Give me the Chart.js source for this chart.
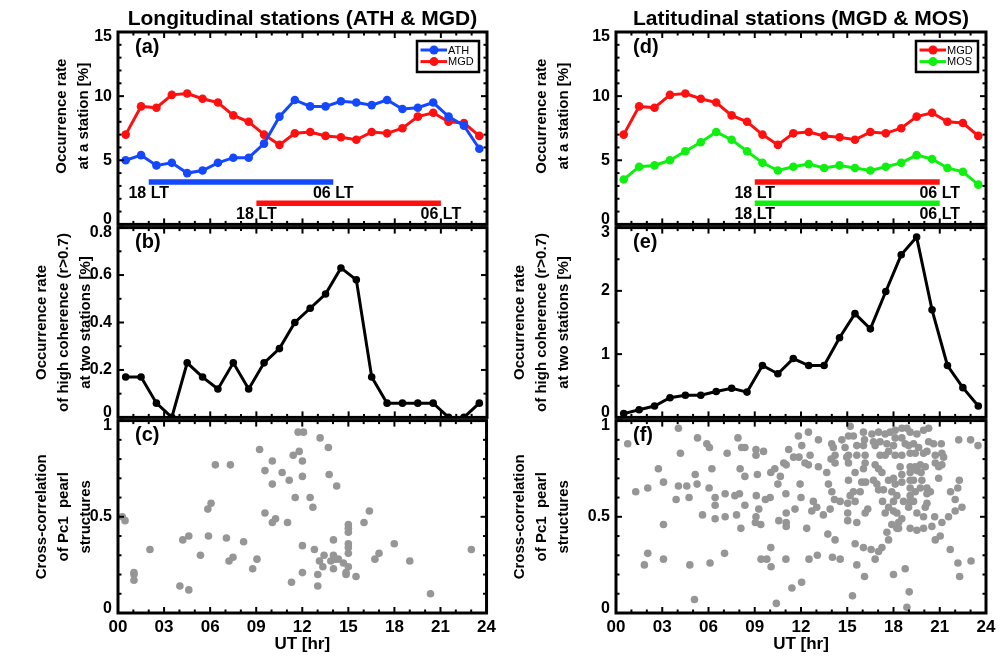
<!DOCTYPE html>
<html>
<head>
<meta charset="utf-8">
<script src="https://cdn.jsdelivr.net/npm/chart.js@4.4.1/dist/chart.umd.min.js"></script>
<style>
  body { margin: 0; background: #fff; width: 1005px; height: 658px; position: relative; overflow: hidden; }
  canvas { position: absolute; }
</style>
</head>
<body>
<canvas id="pa" width="500" height="240" style="left:0;top:0"></canvas>
<canvas id="pb" width="500" height="221" style="left:0;top:212px"></canvas>
<canvas id="pc" width="500" height="253" style="left:0;top:405px"></canvas>
<canvas id="pd" width="505" height="240" style="left:500px;top:0"></canvas>
<canvas id="pe" width="505" height="221" style="left:500px;top:212px"></canvas>
<canvas id="pf" width="505" height="253" style="left:500px;top:405px"></canvas>
<script>
// ---- data ----
const utHours = [0.5, 1.5, 2.5, 3.5, 4.5, 5.5, 6.5, 7.5, 8.5, 9.5, 10.5, 11.5,
                 12.5, 13.5, 14.5, 15.5, 16.5, 17.5, 18.5, 19.5, 20.5, 21.5, 22.5, 23.5];
const athRate = [5.0, 5.4, 4.6, 4.8, 4.0, 4.2, 4.8, 5.2, 5.2, 6.3, 8.4, 9.7,
                 9.2, 9.2, 9.6, 9.5, 9.3, 9.7, 9.0, 9.1, 9.5, 8.4, 7.7, 5.9];
const mgdRate = [7.0, 9.2, 9.1, 10.1, 10.2, 9.8, 9.5, 8.5, 8.0, 7.0, 6.2, 7.1,
                 7.2, 6.9, 6.8, 6.6, 7.2, 7.1, 7.5, 8.4, 8.7, 8.0, 7.9, 6.9];
const mosRate = [3.5, 4.5, 4.6, 5.0, 5.7, 6.4, 7.2, 6.6, 5.7, 4.8, 4.2, 4.5,
                 4.7, 4.4, 4.6, 4.4, 4.2, 4.5, 4.8, 5.4, 5.1, 4.4, 4.1, 3.1];
const lonCoherence = [0.17, 0.17, 0.06, 0, 0.23, 0.17, 0.12, 0.23, 0.12, 0.23, 0.29, 0.40,
                      0.46, 0.52, 0.63, 0.58, 0.17, 0.06, 0.06, 0.06, 0.06, 0, 0, 0.06];
const latCoherence = [0.06, 0.12, 0.18, 0.31, 0.35, 0.35, 0.41, 0.46, 0.40, 0.82, 0.69, 0.93,
                      0.82, 0.82, 1.26, 1.64, 1.40, 1.99, 2.57, 2.85, 1.70, 0.82, 0.47, 0.18];

// night-time (18 LT - 06 LT) windows in UT
const athNight = [2, 14];
const mgdNight = [9, 21];
const mosNight = [9, 21];
const nightLabels = ['18 LT', '06 LT'];

// cross-correlation of Pc1 pearl structures: [UT, r]
const lonPearlCorr = [
  [0.28,0.50],[0.46,0.48],[1.04,0.21],[1.04,0.20],[1.04,0.17],[2.08,0.33],[4.03,0.14],[4.22,0.38],
  [4.61,0.40],[4.61,0.12],[5.37,0.30],[5.85,0.54],[6.06,0.57],[5.89,0.40],[6.34,0.77],[7.06,0.39],
  [7.23,0.27],[7.49,0.29],[7.32,0.77],[8.18,0.37],[8.77,0.23],[9.05,0.28],[9.22,0.85],[9.57,0.74],
  [9.57,0.52],[10.05,0.79],[10.05,0.67],[10.05,0.47],[10.26,0.49],[10.69,0.73],[11.04,0.47],[11.15,0.69],
  [11.30,0.16],[11.41,0.82],[11.54,0.60],[11.80,0.84],[11.73,0.94],[12.08,0.94],[12.01,0.79],[12.01,0.71],
  [12.01,0.35],[12.01,0.21],[12.51,0.60],[12.69,0.55],[12.79,0.33],[13.16,0.91],[13.01,0.20],[13.01,0.14],
  [13.12,0.27],[13.34,0.24],[13.42,0.30],[13.70,0.86],[13.75,0.72],[13.86,0.27],[14.03,0.38],[14.03,0.30],
  [14.03,0.23],[14.14,0.28],[14.24,0.66],[14.35,0.28],[14.68,0.26],[14.85,0.21],[14.85,0.20],[15.00,0.46],
  [15.00,0.44],[15.00,0.42],[15.00,0.36],[15.00,0.34],[15.00,0.31],[15.00,0.24],[15.50,0.19],[16.02,0.47],
  [16.37,0.53],[16.73,0.28],[17.00,0.31],[17.99,0.36],[19.00,0.27],[20.35,0.10],[23.01,0.33]
];
const latPearlCorr = [
  [0.76,0.88],[1.28,0.63],[2.06,0.65],[1.84,0.25],[2.06,0.31],[2.75,0.75],[3.08,0.68],[3.08,0.46],
  [3.08,0.28],[4.05,0.96],[4.18,0.83],[4.05,0.66],[3.90,0.59],[4.59,0.66],[4.74,0.60],[4.79,0.25],
  [5.09,0.07],[5.29,0.91],[5.14,0.72],[5.26,0.67],[5.61,0.51],[5.89,0.88],[6.06,0.86],[6.22,0.75],
  [6.04,0.65],[6.43,0.60],[6.43,0.56],[6.43,0.49],[6.10,0.26],[7.04,0.31],[7.08,0.62],[7.08,0.50],
  [7.21,0.83],[7.91,0.91],[8.05,0.75],[8.15,0.86],[8.36,0.86],[7.71,0.61],[8.01,0.62],[8.36,0.71],
  [8.36,0.56],[7.82,0.51],[8.10,0.44],[9.08,0.85],[9.08,0.82],[9.57,0.84],[9.17,0.72],[9.10,0.61],
  [9.26,0.54],[9.08,0.50],[9.04,0.47],[9.39,0.46],[9.69,0.59],[10.00,0.60],[10.04,0.34],[9.41,0.28],
  [9.78,0.28],[10.06,0.24],[10.40,0.05],[10.04,0.73],[10.30,0.75],[10.50,0.67],[10.66,0.71],[10.56,0.48],
  [10.88,0.78],[11.04,0.77],[11.20,0.85],[11.02,0.62],[11.04,0.52],[11.04,0.47],[11.04,0.45],[11.02,0.28],
  [11.41,0.13],[11.52,0.81],
  [11.83,0.92],[12.05,0.87],[12.48,0.94],[13.13,0.90],[11.87,0.81],[11.94,0.67],[12.00,0.60],[11.61,0.54],
  [12.04,0.16],[12.52,0.28],[13.06,0.30],[12.26,0.78],[12.59,0.82],[12.48,0.77],[13.13,0.76],[13.67,0.73],
  [13.99,0.88],[14.10,0.86],[14.21,0.82],[13.95,0.80],[14.21,0.78],[14.65,0.90],[15.08,0.92],[15.19,0.97],
  [15.40,0.92],[14.86,0.86],[15.08,0.82],[14.97,0.81],[15.08,0.78],[15.62,0.87],[15.62,0.82],[16.05,0.94],
  [16.12,0.90],[16.05,0.87],[16.16,0.82],[16.05,0.75],[16.16,0.78],[15.94,0.68],[15.51,0.73],[13.78,0.67],
  [14.00,0.63],[14.17,0.59],[14.54,0.58],[12.80,0.58],[13.02,0.55],[12.70,0.53],[13.45,0.51],[13.89,0.54],
  [15.08,0.69],[15.19,0.61],[15.40,0.63],[15.51,0.58],[15.03,0.57],[15.03,0.52],[15.03,0.48],[15.62,0.47],
  [16.16,0.52],[16.33,0.54],[15.84,0.63],[16.19,0.68],[16.60,0.93],[17.03,0.94],[16.70,0.89],[16.81,0.87],
  [17.13,0.89],[17.46,0.93],[17.78,0.94],[18.11,0.95],[18.54,0.96],[18.87,0.96],[19.08,0.94],[19.52,0.93],
  [19.95,0.95],[20.28,0.96],[17.57,0.88],[18.00,0.87],[18.11,0.91],[18.54,0.91],[18.76,0.88],[18.98,0.87],
  [19.30,0.88],[19.08,0.83],[19.41,0.83],[19.63,0.86],[19.95,0.83],[20.60,0.88],[21.10,0.88],[21.14,0.83],
  [21.25,0.81],[20.71,0.82],[20.71,0.78],[21.14,0.77],[18.11,0.82],[18.54,0.82],[17.68,0.84],[17.46,0.82],
  [17.13,0.82],[16.81,0.77],[17.03,0.75],[17.25,0.73],[16.70,0.69],[16.92,0.67],[17.03,0.64],[17.35,0.64],
  [17.29,0.58],[17.68,0.55],[17.46,0.52],[18.00,0.53],[18.22,0.52],[17.68,0.69],[18.00,0.70],[18.11,0.67],
  [17.89,0.63],[18.00,0.58],[18.22,0.61],[18.54,0.68],[18.54,0.72],[18.43,0.76],[19.08,0.76],[19.08,0.73],
  [19.08,0.69],[19.08,0.65],[19.08,0.61],[19.08,0.58],[18.98,0.55],[19.30,0.58],[19.41,0.63],[19.30,0.69],
  [19.52,0.74],[19.41,0.76],[19.74,0.77],[20.06,0.76],[19.79,0.73],[19.84,0.69],[20.17,0.65],[20.39,0.63],
  [20.17,0.62],[19.74,0.65],[20.17,0.57],[20.06,0.55],[19.52,0.52],[18.65,0.58],[18.54,0.49],[18.33,0.47],
  [18.22,0.44],[17.89,0.46],[17.57,0.42],[17.68,0.38],[17.25,0.34],[17.03,0.32],[16.81,0.28],[16.55,0.33],
  [16.05,0.34],[15.51,0.36],[15.62,0.25],[16.12,0.19],[15.34,0.09],[14.21,0.38],[13.74,0.41],[14.04,0.29],
  [14.54,0.28],[12.37,0.44],[18.00,0.20],[18.76,0.23],[19.02,0.11],[18.87,0.03],[18.33,0.44],[19.08,0.44],
  [19.52,0.43],[19.95,0.44],[20.49,0.45],[19.95,0.50],[20.67,0.50],[21.14,0.47],[21.57,0.50],[22.00,0.53],
  [22.44,0.55],[22.00,0.59],[22.17,0.65],[21.70,0.63],[22.27,0.69],[20.71,0.38],[21.03,0.40],[21.68,0.33],
  [22.18,0.26],[22.29,0.19],[23.03,0.27],[22.23,0.90],[23.00,0.90],[23.48,0.87],[20.28,0.89],[20.93,0.76],
  [20.17,0.84],[20.93,0.70]
];

const xTickLabels = ['00', '03', '06', '09', '12', '15', '18', '21', '24'];

// ---- styling ----
const FONT = 'Arial, "Liberation Sans", sans-serif';
const BLUE = '#1448ff', RED = '#ff1010', GREEN = '#10f010', GREY = '#969696';

Chart.defaults.font.family = FONT;
Chart.defaults.color = '#000';
Chart.defaults.animation = false;

const pts = vals => utHours.map((h, i) => ({ x: h, y: vals[i] }));

function stationLine(label, vals, color) {
  return {
    label: label, data: pts(vals), inLegend: true,
    borderColor: color, backgroundColor: color, pointBackgroundColor: color,
    borderWidth: 3, pointRadius: 4.3, pointBorderWidth: 0, tension: 0
  };
}
function nightBar(range, level, color) {
  return {
    data: [{ x: range[0], y: level }, { x: range[1], y: level }], endLabels: nightLabels,
    borderColor: color, borderWidth: 5.5, pointRadius: 0, borderCapStyle: 'butt'
  };
}
function coherenceLine(vals) {
  return {
    data: pts(vals), borderColor: '#000', backgroundColor: '#000', clip: 0,
    borderWidth: 3, pointRadius: 3.8, pointBorderWidth: 0, tension: 0
  };
}
function corrScatter(pairs) {
  return {
    type: 'scatter', data: pairs, showLine: false,
    backgroundColor: GREY, pointRadius: 3.8, pointBorderWidth: 0
  };
}

// y tick labels: the end labels sit just inside the frame, as in the original
function yTickLabel(v, i, ticks) {
  const s = String(+v.toFixed(2));
  if (i === ticks.length - 1) return ['', s];
  if (i === 0) return [s, ''];
  return s;
}

// frame, inward ticks, panel tag, LT labels, y label, boxed legend
const panelDeco = {
  id: 'panelDeco',
  afterDatasetsDraw(chart, args, o) {
    const { ctx, chartArea: a, scales: { x, y } } = chart;
    ctx.save();

    // LT labels under the night bars
    ctx.font = 'bold 16px ' + FONT;
    ctx.fillStyle = '#000';
    ctx.textAlign = 'center';
    ctx.textBaseline = 'middle';
    chart.data.datasets.forEach((ds, i) => {
      if (!ds.endLabels) return;
      const el = chart.getDatasetMeta(i).data;
      ctx.fillText(ds.endLabels[0], el[0].x, el[0].y + 11.5);
      ctx.fillText(ds.endLabels[1], el[el.length - 1].x, el[el.length - 1].y + 11.5);
    });

    // ticks
    ctx.strokeStyle = '#000';
    ctx.lineWidth = 2;
    const seg = (x1, y1, x2, y2) => { ctx.beginPath(); ctx.moveTo(x1, y1); ctx.lineTo(x2, y2); ctx.stroke(); };
    const isMajor = (v, step) => Math.abs(v / step - Math.round(v / step)) < 1e-6;
    for (let v = x.min; v <= x.max + 1e-9; v += 1) {
      const px = x.getPixelForValue(v);
      const len = isMajor(v, 3) ? 6 : 3.5;
      seg(px, a.bottom, px, a.bottom - len);
      seg(px, a.top, px, a.top + len);
    }
    const n = Math.round((y.max - y.min) / o.yMinor);
    for (let k = 0; k <= n; k++) {
      const v = y.min + k * o.yMinor;
      const py = y.getPixelForValue(v);
      const len = isMajor(v, o.yMajor) ? 6 : 3.5;
      seg(a.left, py, a.left + len, py);
      seg(a.right, py, a.right - len, py);
    }
    ctx.lineWidth = 3;
    ctx.strokeRect(a.left, a.top, a.right - a.left, a.bottom - a.top);

    // panel tag
    ctx.font = 'bold 20px ' + FONT;
    ctx.textAlign = 'left';
    ctx.fillText(o.tag, a.left + 17, a.top + 15);

    // y axis label (multi-line, rotated)
    ctx.font = 'bold 15px ' + FONT;
    ctx.textAlign = 'center';
    o.yLabel.forEach((line, i) => {
      ctx.save();
      ctx.translate(a.left + o.yLabelDx + i * 22, (a.top + a.bottom) / 2 + o.yLabelDy);
      ctx.rotate(-Math.PI / 2);
      ctx.fillText(line, 0, 0);
      ctx.restore();
    });

    // boxed legend
    if (o.legend) {
      const items = chart.data.datasets.filter(d => d.inLegend);
      const w = 62, h = 31, bx = a.right - 8 - w, by = a.top + 9;
      ctx.fillStyle = '#fff';
      ctx.fillRect(bx, by, w, h);
      ctx.lineWidth = 2.5;
      ctx.strokeStyle = '#000';
      ctx.strokeRect(bx, by, w, h);
      ctx.font = '11px ' + FONT;
      ctx.textAlign = 'left';
      items.forEach((d, i) => {
        const cy = by + 9 + i * 11.6;
        ctx.strokeStyle = d.borderColor;
        ctx.lineWidth = 3;
        seg(bx + 3.5, cy, bx + 30, cy);
        ctx.fillStyle = d.borderColor;
        ctx.beginPath(); ctx.arc(bx + 17, cy, 4.5, 0, Math.PI * 2); ctx.fill();
        ctx.fillStyle = '#000';
        ctx.fillText(d.label, bx + 31, cy + 0.5);
      });
    }
    ctx.restore();
  }
};

function buildPanel(id, cfg) {
  const bottom = !!cfg.showX;
  return new Chart(document.getElementById(id), {
    type: 'line',
    data: { datasets: cfg.datasets },
    options: {
      responsive: false,
      devicePixelRatio: 1,
      layout: { padding: { left: 0, right: cfg.padRight, top: cfg.title ? 0 : 14, bottom: bottom ? 0 : 14 } },
      plugins: {
        legend: { display: false },
        tooltip: { enabled: false },
        title: cfg.title ? {
          display: true, text: cfg.title, fullSize: false, color: '#000',
          font: { size: 21, weight: 'bold' }, padding: { top: 6.7, bottom: 0.1 }
        } : { display: false },
        panelDeco: {
          tag: cfg.tag, yMajor: cfg.yStep, yMinor: cfg.yMinor, legend: !!cfg.legend,
          yLabel: cfg.yLabel, yLabelDx: cfg.yLabelDx, yLabelDy: cfg.yLabelDy || 0
        }
      },
      scales: {
        x: {
          type: 'linear', min: 0, max: 24, display: bottom,
          grid: { display: false, drawTicks: false }, border: { display: false },
          ticks: {
            stepSize: 3, autoSkip: false, maxRotation: 0, padding: 4,
            font: { size: 17, weight: 'bold' },
            callback: (v, i) => xTickLabels[i]
          },
          title: { display: true, text: 'UT [hr]', font: { size: 17, weight: 'bold' }, padding: { top: 0, bottom: 3 } },
          afterFit: s => { s.height = bottom ? 45 : 0; }
        },
        y: {
          type: 'linear', min: cfg.yMin, max: cfg.yMax,
          grid: { display: false, drawTicks: false }, border: { display: false },
          ticks: {
            stepSize: cfg.yStep, padding: 6,
            font: { size: 16, weight: 'bold', lineHeight: 0.6 },
            callback: yTickLabel
          },
          afterFit: s => { s.width = cfg.yWidth; }
        }
      }
    },
    plugins: [panelDeco]
  });
}

const rateLabel = ['Occurrence rate', 'at a station [%]'];
const cohLabel = ['Occurrence rate', 'of high coherence (r>0.7)', 'at two stations [%]'];
const corrLabel = ['Cross-correlation', 'of Pc1  pearl', 'structures'];

// left column: longitudinal pair
buildPanel('pa', {
  title: 'Longitudinal stations (ATH & MGD)', tag: '(a)', legend: true,
  yWidth: 118, padRight: 13, yMin: 0, yMax: 15, yStep: 5, yMinor: 1,
  yLabel: rateLabel, yLabelDx: -56, yLabelDy: -12,
  datasets: [stationLine('ATH', athRate, BLUE), stationLine('MGD', mgdRate, RED),
             nightBar(athNight, 3.3, BLUE), nightBar(mgdNight, 1.65, RED)]
});
buildPanel('pb', {
  tag: '(b)', yWidth: 118, padRight: 13, yMin: 0, yMax: 0.8, yStep: 0.2, yMinor: 0.1,
  yLabel: cohLabel, yLabelDx: -76,
  datasets: [coherenceLine(lonCoherence)]
});
buildPanel('pc', {
  tag: '(c)', showX: true, yWidth: 118, padRight: 13, yMin: 0, yMax: 1, yStep: 0.5, yMinor: 0.1,
  yLabel: corrLabel, yLabelDx: -76,
  datasets: [corrScatter(lonPearlCorr)]
});

// right column: latitudinal pair
buildPanel('pd', {
  title: 'Latitudinal stations (MGD & MOS)', tag: '(d)', legend: true,
  yWidth: 116, padRight: 19, yMin: 0, yMax: 15, yStep: 5, yMinor: 1,
  yLabel: rateLabel, yLabelDx: -74, yLabelDy: -12,
  datasets: [stationLine('MGD', mgdRate, RED), stationLine('MOS', mosRate, GREEN),
             nightBar(mgdNight, 3.3, RED), nightBar(mosNight, 1.65, GREEN)]
});
buildPanel('pe', {
  tag: '(e)', yWidth: 116, padRight: 19, yMin: 0, yMax: 3, yStep: 1, yMinor: 0.5,
  yLabel: cohLabel, yLabelDx: -96,
  datasets: [coherenceLine(latCoherence)]
});
buildPanel('pf', {
  tag: '(f)', showX: true, yWidth: 116, padRight: 19, yMin: 0, yMax: 1, yStep: 0.5, yMinor: 0.1,
  yLabel: corrLabel, yLabelDx: -96,
  datasets: [corrScatter(latPearlCorr)]
});
</script>
</body>
</html>
